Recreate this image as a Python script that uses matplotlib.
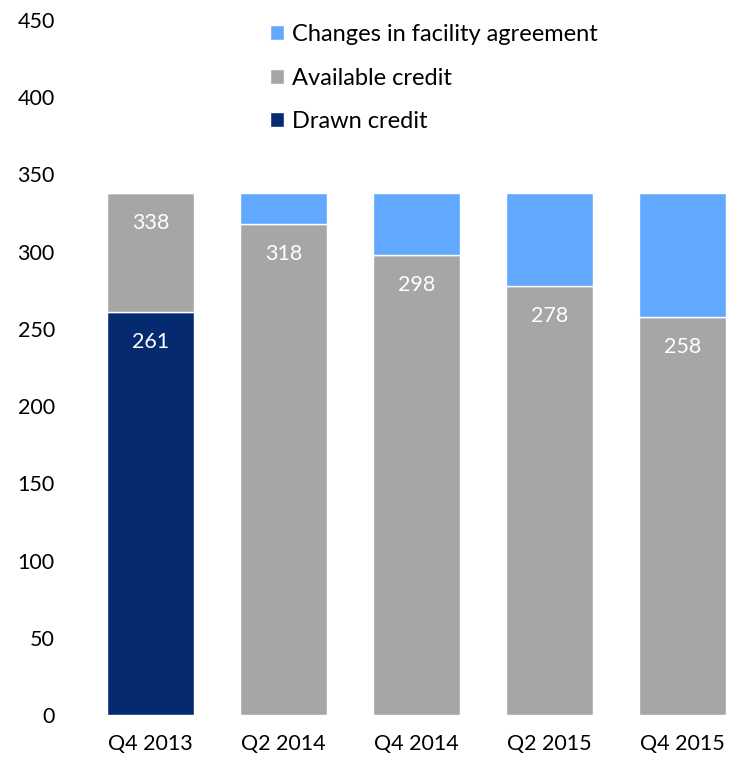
import numpy as np
import matplotlib.pyplot as plt

plt.rcParams['font.family'] = ['Lato', 'DejaVu Sans']

# данные
periods = ['Q4 2013', 'Q2 2014', 'Q4 2014', 'Q2 2015', 'Q4 2015']
drawn = np.array([261, 0, 0, 0, 0])
available_top = np.array([338, 318, 298, 278, 258])
facility_top = np.array([338, 338, 338, 338, 338])

available = available_top - drawn
changes = facility_top - available_top

c_drawn = '#062A70'
c_avail = '#A6A6A6'
c_change = '#60A9FF'

fig = plt.figure(figsize=(7.29, 7.65), dpi=100)
ax = fig.add_axes([84 / 729, 50 / 765, 645 / 729, 695 / 765])

x = np.arange(len(periods))
w = 0.65
ax.bar(x, drawn, w, color=c_drawn, edgecolor='white', linewidth=1, label='Drawn credit')
ax.bar(x, available, w, bottom=drawn, color=c_avail, edgecolor='white', linewidth=1,
       label='Available credit')
ax.bar(x, changes, w, bottom=available_top, color=c_change, edgecolor='white', linewidth=1,
       label='Changes in facility agreement')

for i in range(len(x)):
    ax.text(x[i], available_top[i] - 13, str(available_top[i]), ha='center', va='top',
            color='white', fontsize=15.5)
    if drawn[i] > 0:
        ax.text(x[i], drawn[i] - 13, str(drawn[i]), ha='center', va='top',
                color='white', fontsize=15.5)

ax.set_xlim(-0.5, 4.35)
ax.set_ylim(0, 450)
ax.set_yticks(range(0, 451, 50))
ax.set_xticks(x)
ax.set_xticklabels(periods)
ax.tick_params(axis='both', length=0, labelsize=15.5)
ax.tick_params(axis='y', pad=21)
ax.tick_params(axis='x', pad=14)
for s in ax.spines.values():
    s.set_visible(False)

h, l = ax.get_legend_handles_labels()
ax.legend(h[::-1], l[::-1], loc='upper left', bbox_to_anchor=(249 / 729, 1 - 3 / 765),
          bbox_transform=fig.transFigure, frameon=False, fontsize=17,
          handlelength=0.6, handleheight=0.6, handletextpad=0.3, labelspacing=0.95)

plt.savefig('out.png', dpi=100)
